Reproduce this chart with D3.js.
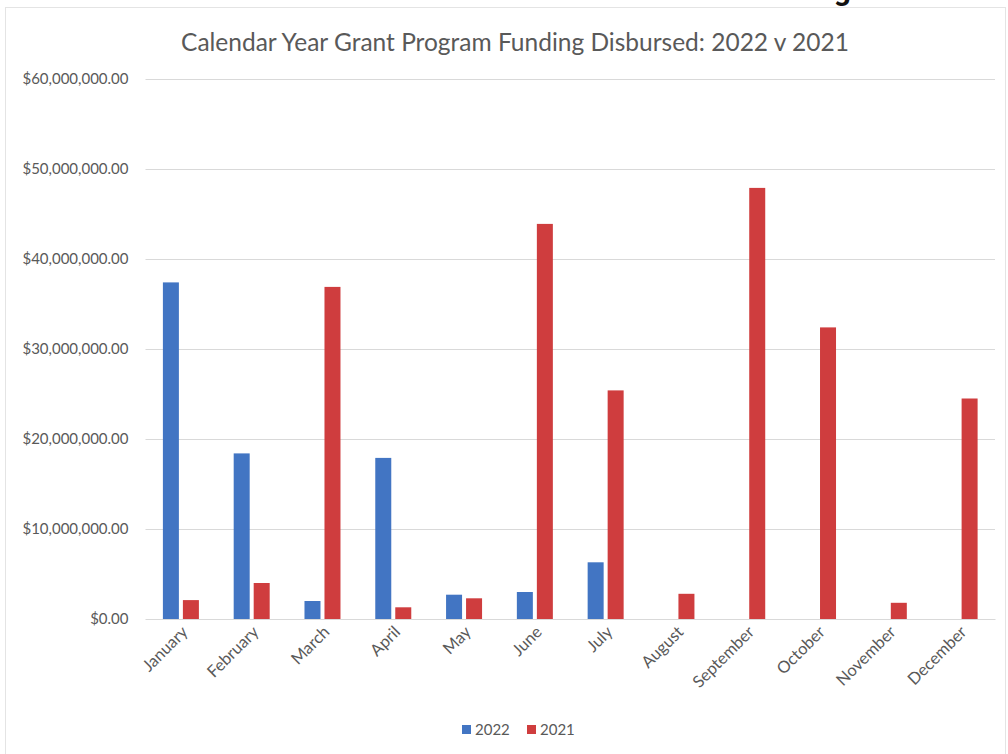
<!DOCTYPE html>
<html>
<head>
<meta charset="utf-8">
<script src="https://cdn.jsdelivr.net/npm/d3@7"></script>
<style>
  body { margin: 0; background: #fff; }
  svg { display: block; font-family: Lato, "Open Sans", sans-serif; }
</style>
</head>
<body>
<div id="chart"></div>
<script>
var months = ["January", "February", "March", "April", "May", "June",
              "July", "August", "September", "October", "November", "December"];
var series = ["2022", "2021"];
var values2022 = [37.4, 18.4, 2.0, 17.9, 2.7, 3.0, 6.3, 0, 0, 0, 0, 0];
var values2021 = [2.1, 4.0, 36.9, 1.3, 2.3, 43.9, 25.4, 2.8, 47.9, 32.4, 1.8, 24.5];
var yTickValues = [0, 10, 20, 30, 40, 50, 60];
var colors = ["#4275c3", "#cf3d3e"];

var W = 1008, H = 754;
var margin = {top: 79, right: 13, bottom: 135, left: 145.5};
var width = W - margin.left - margin.right,
    height = H - margin.top - margin.bottom;

var svg = d3.select("#chart").append("svg")
    .attr("width", W).attr("height", H);

// frame of the pasted chart
svg.append("rect")
    .attr("x", 5.5).attr("y", 7.5)
    .attr("width", W - 8).attr("height", H)
    .attr("fill", "#fff")
    .attr("stroke", "#e4e4e4");

// cut-off heading above the chart
svg.append("text")
    .attr("x", 851).attr("y", 0)
    .attr("text-anchor", "end")
    .attr("font-family", "Roboto, sans-serif")
    .attr("font-weight", "bold")
    .attr("font-size", 30)
    .attr("fill", "#111")
    .text("Funding");

svg.append("text")
    .attr("x", 515).attr("y", 51)
    .attr("text-anchor", "middle")
    .attr("font-size", 24.5)
    .attr("fill", "#595959")
    .text("Calendar Year Grant Program Funding Disbursed: 2022 v 2021");

var g = svg.append("g")
    .attr("transform", "translate(" + margin.left + "," + margin.top + ")");

var x = d3.scaleBand().domain(months).range([0, width]);
var y = d3.scaleLinear().domain([0, 60]).range([height, 0]);

var fmt = d3.format("$,.2f");

var yAxis = d3.axisLeft(y)
    .tickValues(yTickValues)
    .tickSize(-width)
    .tickPadding(17)
    .tickFormat(function(v) { return fmt(v * 1e6); });

var ya = g.append("g").attr("class", "axis axis--y").call(yAxis)
    .attr("font-family", null);
ya.select(".domain").remove();
ya.selectAll("line").attr("stroke", "#d9d9d9");
ya.selectAll("text")
    .attr("fill", "#595959")
    .attr("font-size", 15);

var xa = g.append("g")
    .attr("class", "axis axis--x")
    .attr("transform", "translate(0," + height + ")")
    .call(d3.axisBottom(x).tickSize(0).tickPadding(0))
    .attr("font-family", null);
xa.select(".domain").attr("stroke", "#d9d9d9");
xa.selectAll("text")
    .attr("fill", "#595959")
    .attr("font-size", 16.5)
    .attr("text-anchor", "end")
    .attr("dy", 0)
    .attr("transform", "translate(8,14) rotate(-45)");

var barW = 16, gap = 4;
var data = [values2022, values2021];

data.forEach(function(vals, s) {
    var off = s === 0 ? -(barW + gap / 2) : gap / 2;
    g.append("g")
        .selectAll("rect")
        .data(vals)
        .enter()
        .append("rect")
        .attr("x", function(d, i) { return x(months[i]) + x.bandwidth() / 2 + off; })
        .attr("y", function(d) { return y(d); })
        .attr("width", barW)
        .attr("height", function(d) { return height - y(d); })
        .attr("fill", colors[s]);
});

// legend
var legend = svg.append("g").attr("transform", "translate(462,730)");
var lx = 0;
series.forEach(function(name, i) {
    var item = legend.append("g").attr("transform", "translate(" + lx + ",0)");
    item.append("rect")
        .attr("x", 0).attr("y", -5)
        .attr("width", 9).attr("height", 9)
        .attr("fill", colors[i]);
    item.append("text")
        .attr("x", 13).attr("y", 5)
        .attr("font-size", 15)
        .attr("fill", "#595959")
        .text(name);
    lx += 65;
});
</script>
</body>
</html>
